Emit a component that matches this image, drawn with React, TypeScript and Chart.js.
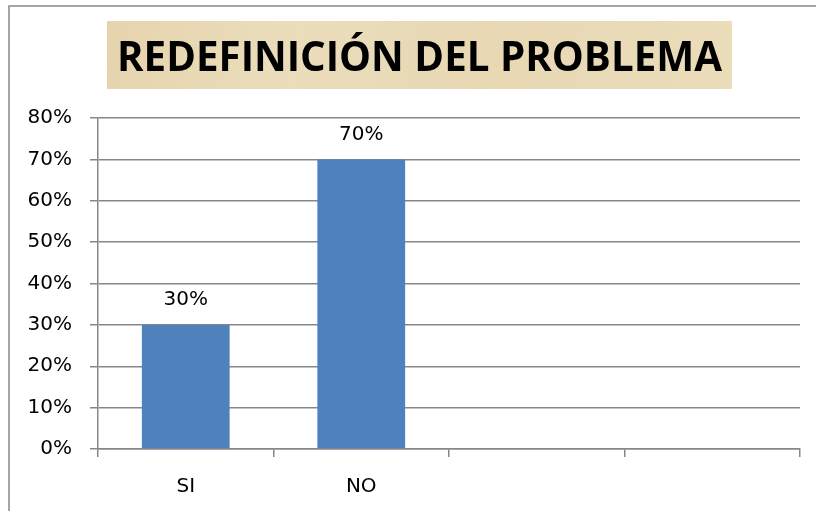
import React, { useEffect, useRef } from 'react';
import { Chart, registerables } from 'chart.js';

Chart.register(...registerables);

const titleText = 'REDEFINICIÓN DEL PROBLEMA';
const categories = ['SI', 'NO', '', ''];
const values: (number | null)[] = [0.3, 0.7, null, null];
const yMin = 0;
const yMax = 0.8;
const yStep = 0.1;

const pct = (v: number) => `${Math.round(v * 100)}%`;

const GRID = '#878787';
const TICK_FONT = { family: "'DejaVu Sans', sans-serif", size: 20 };

const backgroundPlugin = {
  id: 'bgAndTitle',
  beforeDraw(chart: any) {
    const { ctx, width, height } = chart;
    ctx.save();
    ctx.fillStyle = '#ffffff';
    ctx.fillRect(0, 0, width, height);
    // outer frame
    ctx.strokeStyle = '#888888';
    ctx.lineWidth = 1.5;
    ctx.strokeRect(9, 6, width + 20, height + 20);
    // title box
    const bx = 107, by = 21, bw = 625, bh = 68;
    const g = ctx.createLinearGradient(bx, by, bx + bw, by + bh);
    g.addColorStop(0, '#E6D4AE');
    g.addColorStop(0.3, '#EBDDBC');
    g.addColorStop(0.6, '#E8D8B4');
    g.addColorStop(1, '#EBDCBA');
    ctx.fillStyle = g;
    ctx.fillRect(bx, by, bw, bh);
    // title text
    ctx.font = "bold 41px 'Open Sans', sans-serif";
    ctx.fillStyle = '#000000';
    ctx.textBaseline = 'alphabetic';
    ctx.textAlign = 'left';
    const m = ctx.measureText(titleText).width;
    const target = 605;
    ctx.translate(117, 71);
    ctx.scale(target / m, 1);
    ctx.fillText(titleText, 0, 0);
    ctx.restore();
  },
};

const labelPlugin = {
  id: 'barLabels',
  afterDatasetsDraw(chart: any) {
    const { ctx } = chart;
    const meta = chart.getDatasetMeta(0);
    ctx.save();
    ctx.font = `${TICK_FONT.size}px ${TICK_FONT.family}`;
    ctx.fillStyle = '#000000';
    ctx.textAlign = 'center';
    ctx.textBaseline = 'middle';
    meta.data.forEach((bar: any, i: number) => {
      const v = values[i];
      if (v == null) return;
      ctx.fillText(pct(v), bar.x, bar.y - 25);
    });
    ctx.restore();
  },
};

export default function App() {
  const ref = useRef<HTMLCanvasElement | null>(null);

  useEffect(() => {
    if (!ref.current) return;
    const chart = new Chart(ref.current, {
      type: 'bar',
      data: {
        labels: categories,
        datasets: [
          {
            data: values,
            backgroundColor: '#4F81BD',
            borderWidth: 0,
            barPercentage: 1,
            categoryPercentage: 0.5,
          },
        ],
      },
      options: {
        responsive: false,
        animation: false,
        devicePixelRatio: 1,
        layout: { padding: { left: 0, right: 16, top: 118, bottom: 0 } },
        plugins: {
          legend: { display: false },
          title: { display: false },
          tooltip: { enabled: false },
        },
        scales: {
          x: {
            ticks: { font: TICK_FONT, color: '#000000', padding: 18, maxRotation: 0, autoSkip: false },
            grid: { drawOnChartArea: false, drawTicks: true, tickLength: 8, color: GRID, lineWidth: 1.5, offset: true },
            border: { display: true, color: GRID, width: 1.5 },
            afterFit: (s: any) => {
              s.height = 62;
            },
          },
          y: {
            min: yMin,
            max: yMax,
            ticks: { stepSize: yStep, font: TICK_FONT, color: '#000000', padding: 18, callback: (v: any) => pct(Number(v)) },
            grid: { color: GRID, lineWidth: 1.5, tickLength: 8, drawTicks: true },
            border: { display: true, color: GRID, width: 1.5 },
            afterFit: (s: any) => {
              s.width = 98;
            },
          },
        },
      },
      plugins: [backgroundPlugin, labelPlugin],
    });
    return () => chart.destroy();
  }, []);

  return (
    <div style={{ position: 'absolute', left: 0, top: 0, width: 816, height: 511, background: '#fff' }}>
      <canvas ref={ref} width={816} height={511} style={{ display: 'block' }} />
    </div>
  );
}
